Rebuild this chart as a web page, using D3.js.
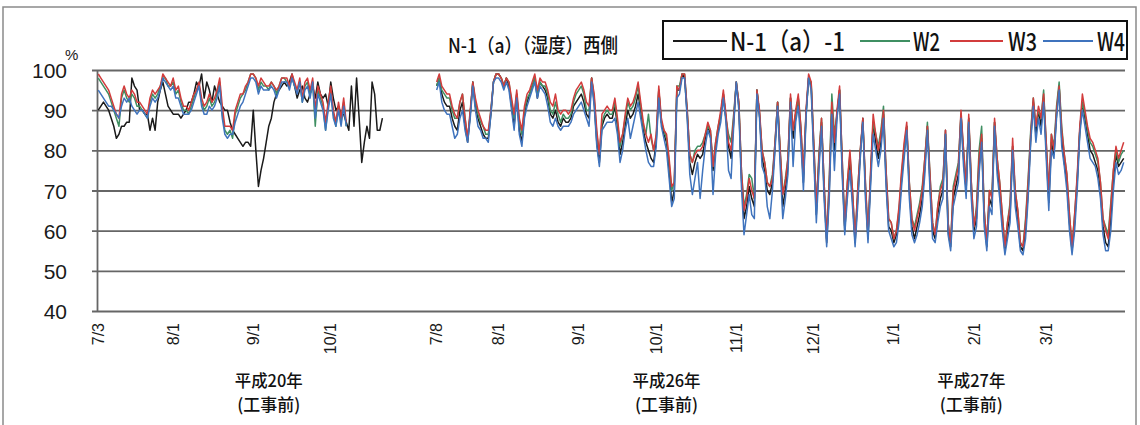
<!DOCTYPE html>
<html>
<head>
<meta charset="utf-8">
<script src="https://cdn.jsdelivr.net/npm/d3@7"></script>
<style>
body{margin:0;background:#fff;}
svg{display:block;}
</style>
</head>
<body>
<svg id="svg" width="1140" height="425"></svg>
<script>
// x axis: one category per day, two observation periods
var periodNames = ["H20", "H26"];
var periodStart = ["2008-07-03", "2014-07-08"];
var periodDays = [131, 267];
var tickLabels = [["7/3","8/1","9/1","10/1"], ["7/8","8/1","9/1","10/1","11/1","12/1","1/1","2/1","3/1"]];
var yTicks = [40, 50, 60, 70, 80, 90, 100];
var seriesNames = ["N-1（a）-1", "W2", "W3", "W4"];
var sectionLabels = ["平成20年", "平成26年", "平成27年"];
var sectionSub = "(工事前)";
var title = "N-1（a）（湿度）西側";

// humidity % (period 1 = H20)
var n1_2008 = [90,91,92,91,90,88,86,83,84,86, 86,87,87,98,96,95,90,90,89,89,
  85,88,85,92,95,97,94,91,90,89, 89,89,88,89,90,92,92,94,97,96,
  99,93,97,95,92,96,94,92,91,90, 90,87,85,84,83,82,81,82,82,81,
  90,80,71,75,78,82,86,88,92,94, 95,96,97,96,97,99,96,93,95,96,
  93,92,94,96,93,97,94,93,94,91, 97,93,90,91,89,89,87,85,96,86,
  98,88,77,82,86,83,97,94,85,85,88];
var w2_2008 = [98,97,96,95,94,92,90,88,86,93, 95,93,92,94,93,91,91,90,89,88,
  92,94,93,94,96,98,98,96,96,97, 94,95,92,90,90,89,91,93,95,96,
  92,90,91,93,91,92,94,97,89,85, 84,85,83,89,91,93,94,95,97,99,
  99,98,95,97,96,96,95,97,96,94, 96,98,98,97,96,98,96,95,97,92,
  96,97,94,97,86,95,93,91,85,91, 95,89,86,91,87,92,86];
var w3_2008 = [99,98,97,96,95,93,91,89,88,94, 96,94,93,95,94,92,92,91,90,89,
  93,95,94,95,96,99,98,97,96,98, 95,96,93,91,91,90,92,94,95,97,
  93,91,92,94,92,93,95,98,91,86, 86,86,85,90,92,94,94,96,97,99,
  99,98,96,98,97,96,96,97,96,95, 96,98,98,98,96,99,97,95,98,93,
  97,98,95,98,90,96,94,92,87,92, 96,90,87,92,88,93,87];
var w4_2008 = [95,94,93,92,91,91,90,89,88,91, 93,92,93,91,90,89,90,90,89,88,
  91,93,92,93,95,98,97,96,95,96, 93,93,91,89,89,89,90,92,94,96,
  91,89,89,91,90,91,93,96,88,84, 83,84,84,87,89,91,92,94,96,98,
  98,97,94,96,95,95,95,96,95,93, 95,97,97,97,95,98,96,94,97,92,
  95,96,93,97,88,94,92,90,85,90, 94,88,86,90,86,91,86];

// period 2 = H26 / H27
var n1_2014 = [96,98,94,92,91,91,88,86,85,90, 92,86,82,89,97,91,88,86,84,83,
  83,89,97,99,99,98,96,98,96,91, 86,94,85,82,89,92,94,96,98,93,
  97,96,95,93,89,88,90,87,86,88, 87,87,88,91,92,93,94,92,89,88,
  98,92,82,77,86,88,89,88,88,91, 86,79,82,86,90,88,89,91,94,90,
  85,82,80,78,77,82,95,87,84,82, 75,67,70,95,95,99,98,89,77,74,
  77,79,78,79,83,86,84,75,81,85, 89,94,88,81,78,87,97,91,73,63,
  66,71,68,66,95,89,78,75,70,69, 72,81,92,79,66,70,76,93,83,89,
  93,84,72,89,98,96,80,64,77,87, 70,57,70,91,80,89,95,76,60,70,
  78,68,57,68,79,88,70,58,73,87, 82,78,82,89,73,61,60,57,59,64,
  73,80,86,70,61,58,61,64,68,76, 86,72,60,58,64,68,70,85,60,56,
  68,71,74,89,78,70,88,70,60,63, 76,83,63,56,68,66,87,76,70,62,
  55,60,64,81,68,63,56,55,60,70, 83,92,84,90,86,93,80,67,82,79,
  89,96,83,77,72,62,55,62,72,85, 92,88,84,80,79,77,75,70,61,57,
  56,63,73,79,76,77,78];
var w2_2014 = [96,98,95,94,93,93,90,88,88,92, 94,88,83,89,97,92,89,87,86,84,
  84,90,97,99,99,98,96,98,97,92, 88,94,87,84,90,93,94,96,98,94,
  97,96,96,94,90,89,92,89,87,89, 88,88,89,92,94,95,96,94,90,90,
  98,93,84,79,87,89,90,89,89,92, 87,81,84,88,92,90,91,93,96,91,
  86,84,89,83,80,83,95,87,85,83, 77,70,72,96,96,99,99,90,79,77,
  80,81,81,82,84,86,85,76,82,86, 89,94,88,84,82,89,97,92,75,66,
  69,74,73,68,95,89,80,77,72,71, 74,82,92,80,69,73,78,93,85,89,
  93,86,74,89,98,97,82,66,79,88, 72,58,73,94,84,89,95,78,61,72,
  79,70,58,70,80,87,72,59,74,87, 84,81,85,91,75,63,62,58,60,65,
  74,81,86,72,63,61,64,67,71,78, 87,74,62,59,66,71,73,84,62,57,
  71,74,77,89,80,72,88,72,61,66, 80,86,65,57,70,69,87,78,72,64,
  56,62,67,81,70,65,57,56,63,73, 85,93,86,90,88,95,82,70,84,81,
  91,97,86,79,74,64,56,64,73,85, 92,89,85,82,81,79,77,72,63,61,
  59,67,75,80,77,79,80];
var w3_2014 = [97,99,96,95,94,94,91,89,88,92, 94,88,83,90,97,93,90,88,86,85,
  85,90,97,99,99,98,96,98,97,93, 89,95,88,85,91,94,95,97,99,95,
  98,97,97,95,92,91,94,90,89,90, 90,89,90,93,95,96,97,95,92,91,
  98,94,85,79,89,90,91,90,90,93, 88,82,84,89,93,91,92,94,97,92,
  87,84,82,84,80,84,96,88,85,84, 78,71,72,96,95,99,99,90,79,77,
  79,80,80,81,84,87,85,76,82,86, 90,95,89,82,80,88,97,92,75,65,
  68,73,70,68,95,90,80,77,72,71, 73,82,92,80,69,72,78,94,85,90,
  94,86,74,90,99,97,82,66,78,88, 72,58,72,92,82,90,96,78,61,72,
  80,70,58,70,80,88,72,59,75,89, 84,80,84,90,75,63,62,58,60,66,
  75,82,87,72,63,60,63,66,70,78, 86,74,62,59,66,70,72,85,62,57,
  70,73,76,90,80,71,89,72,61,65, 78,84,65,57,70,68,88,78,72,64,
  56,62,66,83,70,65,57,56,62,72, 84,93,86,91,88,94,82,70,84,80,
  90,96,85,79,74,64,56,64,74,86, 94,90,86,83,82,80,78,72,63,60,
  58,66,75,81,78,80,82];
var w4_2014 = [95,97,92,90,89,89,86,83,84,88, 90,85,82,88,96,90,86,85,83,83,
  82,89,97,98,98,97,95,97,95,90, 85,93,84,81,88,91,93,95,97,93,
  96,95,94,91,87,86,88,86,85,86, 86,86,87,89,90,91,92,90,88,86,
  97,91,81,76,85,86,87,87,87,88, 84,77,80,85,88,83,86,89,92,88,
  84,80,77,76,76,81,93,86,83,80, 73,66,68,93,94,98,98,88,74,69,
  73,77,68,75,81,85,83,69,79,84, 87,93,87,75,73,86,97,90,71,59,
  64,69,64,63,94,88,76,74,66,63, 70,80,91,76,63,68,74,92,76,87,
  91,82,70,88,98,95,78,62,75,86, 68,56,68,89,75,88,94,74,59,68,
  75,66,56,66,78,87,68,57,71,84, 80,76,80,88,71,60,58,56,57,62,
  71,78,85,68,59,57,59,62,66,74, 85,70,58,57,62,66,68,84,59,55,
  66,69,72,88,76,68,87,68,58,61, 74,82,61,55,66,64,86,74,68,60,
  54,58,62,80,66,61,55,54,58,68, 82,91,82,88,84,92,78,65,80,78,
  88,95,81,76,70,60,54,60,70,84, 90,86,82,78,77,76,73,68,59,55,
  55,60,70,77,74,75,77];

var colors = ["#1a1a1a", "#3f8f62", "#d23c3c", "#3f73bd"];

// build daily categories
var cats = [];
periodStart.forEach(function(s, p) {
	var t0 = new Date(s + "T00:00:00Z").getTime();
	for (var k = 0; k < periodDays[p]; k++) {
		var t = new Date(t0 + k * 86400000);
		cats.push({key: periodNames[p] + ":" + k, label: (t.getUTCMonth() + 1) + "/" + t.getUTCDate(), period: p});
	}
});

function pad(a, n) { return a.concat(new Array(n - a.length).fill(null)); }
var series = [
	pad(n1_2008, periodDays[0]).concat(n1_2014),
	pad(w2_2008, periodDays[0]).concat(w2_2014),
	pad(w3_2008, periodDays[0]).concat(w3_2014),
	pad(w4_2008, periodDays[0]).concat(w4_2014)
];

var svg = d3.select("#svg");
var jpFont = "Noto Sans CJK JP, sans-serif";
var numFont = "Liberation Sans, Arial, sans-serif";

// scanned page frame
svg.append("rect").attr("x", 3).attr("y", 7).attr("width", 1133).attr("height", 440)
	.attr("fill", "none").attr("stroke", "#8a8a8a").attr("stroke-width", 1.5);

var scaleX = d3.scaleBand().domain(cats.map(function(d) { return d.key; })).range([97, 1125]).padding(0);
var cx = function(k) { return scaleX(k) + scaleX.bandwidth() / 2; };
var scaleY = d3.scaleLinear().domain([40, 100]).range([311, 70]);

// Y axis + grid
var gAxisY = svg.append("g").attr("transform", "translate(92,0)")
	.call(d3.axisLeft(scaleY).tickValues(yTicks).tickSizeInner(-(1125 - 92)).tickSizeOuter(0).tickPadding(25));
gAxisY.select(".domain").remove();
gAxisY.selectAll("line").attr("stroke", "#666").attr("stroke-width", 1.8);
gAxisY.selectAll("text").attr("font-family", numFont)
	.attr("font-size", 21).attr("fill", "#1a1a1a").attr("dy", "0.36em");
svg.append("line").attr("x1", 97.5).attr("x2", 97.5).attr("y1", 70).attr("y2", 311)
	.attr("stroke", "#666").attr("stroke-width", 1.8);
svg.append("text").attr("x", 65).attr("y", 60).text("%")
	.attr("font-family", numFont).attr("font-size", 15).attr("fill", "#1a1a1a");

// X axis labels (rotated)
var tickKeys = cats.filter(function(d, i) {
	var prevSame = i > 0 && cats[i - 1].period === d.period;
	return tickLabels[d.period].indexOf(d.label) >= 0 && (!prevSame || d.label.split("/")[1] === "1");
}).map(function(d) { return d.key; });
var labelOf = {};
cats.forEach(function(d) { labelOf[d.key] = d.label; });
var gAxisX = svg.append("g").attr("transform", "translate(0,311)")
	.call(d3.axisBottom(scaleX).tickValues(tickKeys).tickFormat(function(k) { return labelOf[k]; }).tickSize(0));
gAxisX.select(".domain").remove();
gAxisX.selectAll("text")
	.attr("transform", "rotate(-90)").attr("text-anchor", "end")
	.attr("x", -12).attr("y", 0).attr("dy", "0.35em")
	.attr("font-family", numFont).attr("font-size", 16).attr("fill", "#1a1a1a");

// lines
var line = d3.line()
	.defined(function(d) { return d != null; })
	.x(function(d, i) { return cx(cats[i].key); })
	.y(function(d) { return scaleY(d); });
series.forEach(function(s, n) {
	svg.append("path").datum(s).attr("d", line)
		.attr("fill", "none").attr("stroke", colors[n]).attr("stroke-width", 1.5)
		.attr("stroke-linejoin", "round");
});

// title
svg.append("text").attr("x", 448).attr("y", 53).text(title)
	.attr("font-family", jpFont).attr("font-size", 20).attr("font-weight", 500).attr("fill", "#111")
	.attr("textLength", 170).attr("lengthAdjust", "spacingAndGlyphs");

// legend
svg.append("rect").attr("x", 663).attr("y", 21).attr("width", 464).attr("height", 38)
	.attr("fill", "#fff").attr("stroke", "#111").attr("stroke-width", 2);
var legLine = [[673, 727], [860, 910], [950, 1003], [1043, 1093]];
var legText = [[730, 115], [913, 27], [1008, 29], [1097, 28]];
seriesNames.forEach(function(name, n) {
	svg.append("line").attr("x1", legLine[n][0]).attr("x2", legLine[n][1]).attr("y1", 41).attr("y2", 41)
		.attr("stroke", colors[n]).attr("stroke-width", 1.8);
	svg.append("text").attr("x", legText[n][0]).attr("y", 51).text(name)
		.attr("font-family", jpFont).attr("font-size", 25).attr("font-weight", 500).attr("fill", "#111")
		.attr("textLength", legText[n][1]).attr("lengthAdjust", "spacingAndGlyphs");
});

// period labels under the axis
var sectionAt = ["H20:66", "H26:89", "H26:207"];
sectionLabels.forEach(function(lab, n) {
	var x = cx(sectionAt[n]);
	svg.append("text").attr("x", x).attr("y", 387).attr("text-anchor", "middle").text(lab)
		.attr("font-family", jpFont).attr("font-size", 17).attr("font-weight", 500).attr("fill", "#111")
		.attr("textLength", 68).attr("lengthAdjust", "spacingAndGlyphs");
	svg.append("text").attr("x", x).attr("y", 411).attr("text-anchor", "middle").text(sectionSub)
		.attr("font-family", jpFont).attr("font-size", 17).attr("font-weight", 500).attr("fill", "#111")
		.attr("textLength", 63).attr("lengthAdjust", "spacingAndGlyphs");
});
</script>
</body>
</html>
